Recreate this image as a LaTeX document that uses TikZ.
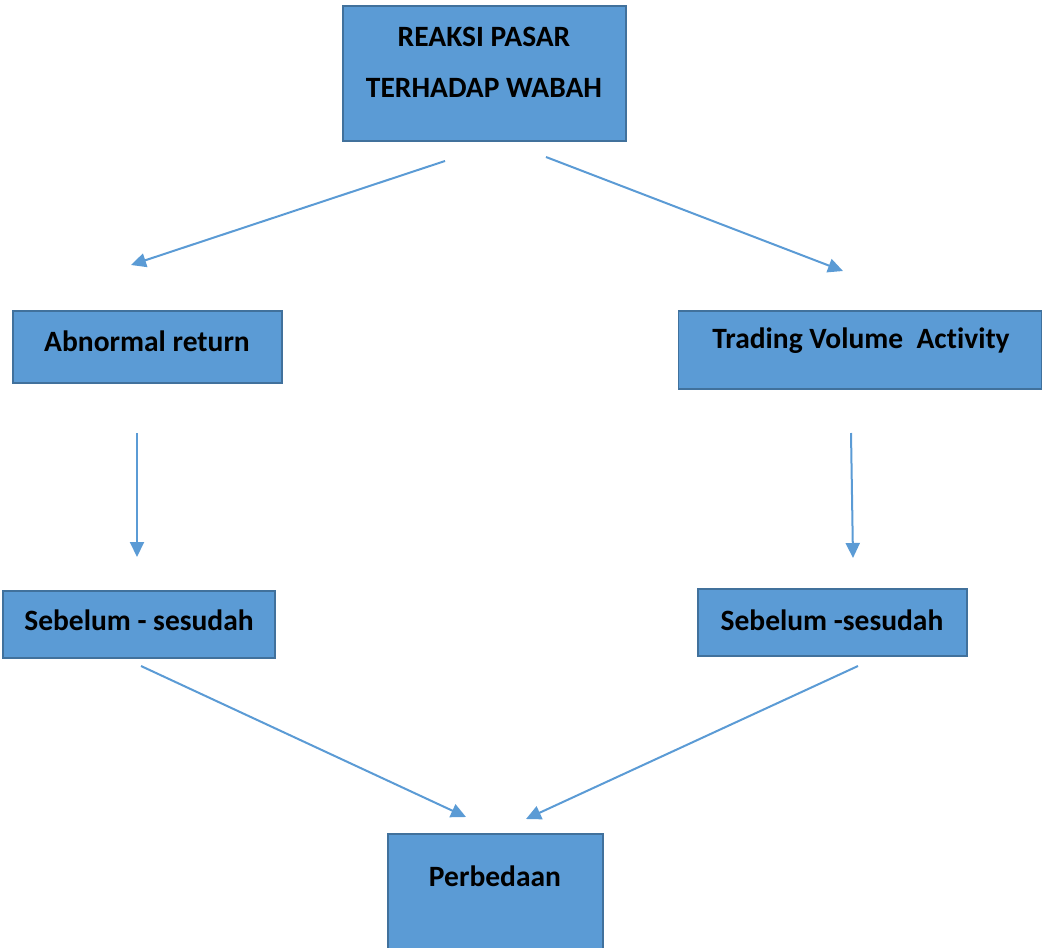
\documentclass[tikz,border=0pt]{standalone}
\usepackage{fontspec}
\setmainfont[Ligatures=NoCommon]{Carlito}
\usetikzlibrary{arrows.meta}
\definecolor{boxfill}{HTML}{5B9BD5}
\definecolor{boxline}{HTML}{41719C}
\definecolor{arr}{HTML}{5B9BD5}
\tikzset{
  box/.style={draw=boxline, fill=boxfill, line width=1.6pt, inner sep=0pt},
  lbl/.style={font=\fontsize{29.5}{34}\selectfont\bfseries, text=black, inner sep=0pt, anchor=center},
  conn/.style={draw=arr, line width=2pt, -{Triangle[length=15pt,width=14pt]}}
}
\begin{document}
\begin{tikzpicture}[x=1pt,y=-1pt]
\useasboundingbox (0,0) rectangle (1043,947);
% boxes
\node[box, minimum width=283pt, minimum height=135pt] (top) at (484.5,73.5) {};
\node[box, minimum width=269pt, minimum height=72pt] (ab) at (147.5,347) {};
\node[box, minimum width=363pt, minimum height=78pt] (tv) at (860,350) {};
\node[box, minimum width=272pt, minimum height=67pt] (sl) at (139,624.5) {};
\node[box, minimum width=269pt, minimum height=67pt] (sr) at (832.5,622.5) {};
\node[box, minimum width=215pt, minimum height=120pt] (pb) at (495.5,894) {};
% texts
\node[lbl] (t1a) at (484,37) {REAKSI PASAR};
\node[lbl] (t1b) at (484,88) {TERHADAP WABAH};
\node[lbl] (t2) at (147,341) {Abnormal return};
\node[lbl] (t3) at (861,341) {Trading Volume\ \ Activity};
\node[lbl] (t4) at (139,620) {Sebelum - sesudah};
\node[lbl] (t5) at (832,620) {Sebelum -sesudah};
\node[lbl] (t6) at (495,876) {Perbedaan};
% connector endpoints
\coordinate (a1s) at (445,161); \coordinate (a1e) at (131,265);
\coordinate (a2s) at (546,157); \coordinate (a2e) at (843,271);
\coordinate (a3s) at (137,433); \coordinate (a3e) at (137,557);
\coordinate (a4s) at (851,433); \coordinate (a4e) at (853,558);
\coordinate (a5s) at (141,666); \coordinate (a5e) at (466,817);
\coordinate (a6s) at (858,666); \coordinate (a6e) at (526,819);
\draw[conn] (a1s) -- (a1e);
\draw[conn] (a2s) -- (a2e);
\draw[conn] (a3s) -- (a3e);
\draw[conn] (a4s) -- (a4e);
\draw[conn] (a5s) -- (a5e);
\draw[conn] (a6s) -- (a6e);
\end{tikzpicture}
\end{document}
